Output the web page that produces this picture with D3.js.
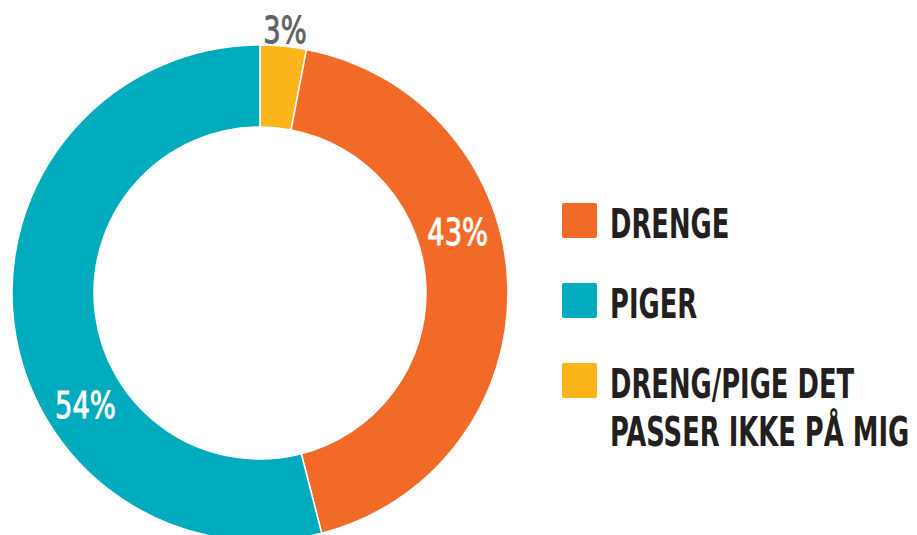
<!DOCTYPE html>
<html>
<head>
<meta charset="utf-8">
<script src="https://cdn.jsdelivr.net/npm/d3@7"></script>
<style>
  html, body { margin: 0; padding: 0; background: #fff; overflow: hidden; }
  svg { display: block; }
  text { font-family: "DejaVu Sans Condensed", "Liberation Sans Narrow", sans-serif; }
</style>
</head>
<body>
<div id="chart"></div>
<script>
// data
let categories = ["DRENG/PIGE DET PASSER IKKE PÅ MIG", "DRENGE", "PIGER"];
let shares = [3, 43, 54];
let colors = ["#FBB41A", "#F26A27", "#00ABBD"];
// legend order is different from the slice order
let legendOrder = ["DRENGE", "PIGER", "DRENG/PIGE DET PASSER IKKE PÅ MIG"];
let legendLines = [["DRENGE"], ["PIGER"], ["DRENG/PIGE DET", "PASSER IKKE PÅ MIG"]];
// where inside each slice the % label sits (0 = start, 1 = end)
let labelAt = [0.5, 0.4, 0.37];

let w = 917, h = 535;
let cx = 260, cy = 293;
let outerR = 248, innerR = 166;

let viz = d3.select("#chart")
    .append("svg")
    .attr("width", w)
    .attr("height", h)
;

let color = d3.scaleOrdinal().domain(categories).range(colors);

let pie = d3.pie().sort(null).value(function(d){ return d.share; });
let data = categories.map(function(c, i){
  return { name: c, share: shares[i], at: labelAt[i] };
});
let arcs = pie(data);

let arcMaker = d3.arc().innerRadius(innerR).outerRadius(outerR);

let donut = viz.append("g")
    .attr("transform", "translate(" + cx + "," + cy + ")")
;

donut.selectAll("path")
    .data(arcs)
    .enter()
    .append("path")
    .attr("d", arcMaker)
    .attr("fill", function(d){ return color(d.data.name); })
    .attr("stroke", "#fff")
    .attr("stroke-width", 1.5)
;

// labels: the small slice gets its label outside the ring
donut.selectAll(".pct")
    .data(arcs)
    .enter()
    .append("text")
    .attr("class", "pct")
    .attr("transform", function(d){
      let a = d.startAngle + (d.endAngle - d.startAngle) * d.data.at;
      let r = d.data.share < 5 ? outerR + 17 : (innerR + outerR) / 2;
      return "translate(" + (Math.sin(a) * r) + "," + (-Math.cos(a) * r) + ") scale(0.8,1)";
    })
    .attr("text-anchor", "middle")
    .attr("dy", "0.36em")
    .attr("font-size", 38)
    .attr("fill", function(d){ return d.data.share < 5 ? "#616265" : "#fff"; })
    .attr("stroke", function(d){ return d.data.share < 5 ? "#616265" : "#fff"; })
    .attr("stroke-width", 0.9)
    .text(function(d){ return d.data.share + "%"; })
;

// legend
let legend = viz.append("g")
    .attr("transform", "translate(562,203)")
;

let items = legend.selectAll(".item")
    .data(legendOrder)
    .enter()
    .append("g")
    .attr("class", "item")
    .attr("transform", function(d, i){ return "translate(0," + (i * 80) + ")"; })
;

items.append("rect")
    .attr("width", 35)
    .attr("height", 35)
    .attr("rx", 2)
    .attr("fill", function(d){ return color(d); })
;

items.each(function(d, i){
  let t = d3.select(this).append("text")
      .attr("transform", "translate(48,35) scale(0.7,1)")
      .attr("font-size", 41)
      .attr("font-weight", "bold")
      .attr("fill", "#231F20")
  ;
  legendLines[i].forEach(function(line, j){
    t.append("tspan")
        .attr("x", 0)
        .attr("y", j * 48)
        .text(line)
    ;
  });
});
</script>
</body>
</html>
